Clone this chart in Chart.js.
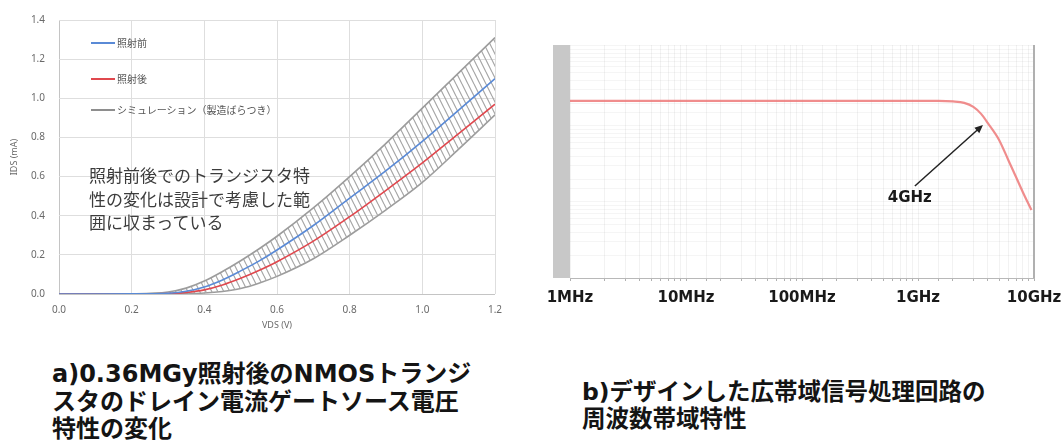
<!DOCTYPE html>
<html>
<head>
<meta charset="utf-8">
<script src="https://cdn.jsdelivr.net/npm/chart.js@4.4.1/dist/chart.umd.min.js"></script>
<style>
  html, body { margin: 0; padding: 0; background: #fff; width: 1061px; height: 442px; overflow: hidden;
    font-family: "Noto Sans CJK JP", "Noto Sans", sans-serif; }
  #ivBox { position: absolute; left: 0; top: 0; width: 520px; height: 335px; }
  #bwBox { position: absolute; left: 530px; top: 30px; width: 531px; height: 290px; }
  .lg { position: absolute; left: 91px; height: 14px; font-size: 10px; line-height: 14px; color: #555; white-space: nowrap; }
  .lg i { display: inline-block; width: 24px; height: 2px; vertical-align: middle; margin-right: 2px; position: relative; top: -1px; }
  .note { position: absolute; left: 89px; top: 163px; font-size: 17px; line-height: 23.5px; color: #3c3c3c; white-space: nowrap; }
  .cap { position: absolute; font-weight: bold; color: #141414; white-space: nowrap;
    font-family: "DejaVu Sans", "Noto Sans CJK JP", sans-serif; }
  #capA { left: 52px; top: 361px; font-size: 24px; line-height: 27.5px; }
  #capB { left: 582px; top: 379px; font-size: 23.5px; line-height: 26.5px; }
</style>
</head>
<body>
<div id="ivBox"><canvas id="ivChart" width="520" height="335"></canvas></div>
<div id="bwBox"><canvas id="bwChart" width="531" height="290"></canvas></div>

<div class="lg" style="top:36px"><i style="background:#5a8ad6"></i>照射前</div>
<div class="lg" style="top:72px"><i style="background:#e0484e"></i>照射後</div>
<div class="lg" style="top:103px"><i style="background:#8e8e8e"></i>シミュレーション（製造ばらつき）</div>

<div class="note">照射前後でのトランジスタ特<br>性の変化は設計で考慮した範<br>囲に収まっている</div>

<div class="cap" id="capA">a)0.36MGy照射後のNMOSトランジ<br>スタのドレイン電流ゲートソース電圧<br>特性の変化</div>
<div class="cap" id="capB">b)デザインした広帯域信号処理回路の<br>周波数帯域特性</div>

<script>
// ---- Panel a: IDS–VDS characteristics ----
const vds        = [0, 0.1, 0.2, 0.3, 0.35, 0.4, 0.45, 0.5, 0.55, 0.6, 0.7, 0.8, 0.9, 1.0, 1.1, 1.2];
const idsBefore  = [0, 0, 0.0005, 0.004, 0.014, 0.036, 0.072, 0.118, 0.168, 0.225, 0.35, 0.49, 0.63, 0.78, 0.94, 1.10];
const idsAfter   = [0, 0, 0.0003, 0.002, 0.008, 0.021, 0.046, 0.08, 0.12, 0.165, 0.27, 0.395, 0.53, 0.67, 0.82, 0.97];
const simUpper   = [0, 0, 0.001, 0.01, 0.03, 0.066, 0.115, 0.17, 0.23, 0.295, 0.44, 0.60, 0.77, 0.95, 1.13, 1.31];
const simLower   = [0, 0, 0, 0.0005, 0.002, 0.005, 0.013, 0.028, 0.055, 0.09, 0.18, 0.30, 0.43, 0.57, 0.74, 0.915];
const vdsTicks   = [0, 0.2, 0.4, 0.6, 0.8, 1.0, 1.2];

// ---- Panel b: frequency response ----
const freqHz     = [1e6, 1e7, 1e8, 5e8, 1e9, 1.5e9, 2e9, 2.5e9, 3e9, 3.5e9, 4e9, 5e9, 6e9, 7e9, 8e9, 9.5e9];
const gain       = [0.2133, 0.2133, 0.2133, 0.2133, 0.2133, 0.2133, 0.210, 0.201, 0.178, 0.144, 0.109, 0.0655, 0.0357, 0.0213, 0.01355, 0.00785];
const freqDecades = [1e6, 1e7, 1e8, 1e9, 1e10];
const freqLabels  = ['1MHz', '10MHz', '100MHz', '1GHz', '10GHz'];
const arrowTail  = { x: 9.4e8, y: 0.0162 };
const arrowTip   = { x: 3.63e9, y: 0.103 };
const markerText = '4GHz';
const markerAt   = { x: 8.5e8, y: 0.0113 };

const pts = (xs, ys) => xs.map((v, i) => ({ x: v, y: ys[i] }));

function hatchPattern(color) {
  const w = 6, h = 12;
  const c = document.createElement('canvas');
  c.width = w; c.height = h;
  const g = c.getContext('2d');
  g.strokeStyle = color;
  g.lineWidth = 1.2;
  g.beginPath();
  for (const x0 of [-w, 0, w]) { g.moveTo(x0, 0); g.lineTo(x0 + w, h); }
  g.stroke();
  return g.createPattern(c, 'repeat');
}

const tickFont = { family: '"Noto Sans", sans-serif', size: 10 };
const gridCol = ctx => (ctx.tick && ctx.tick.value === 0) ? '#c4c4c4' : '#dedede';

new Chart(document.getElementById('ivChart'), {
  type: 'line',
  data: {
    datasets: [
      { label: 'sim-upper', data: pts(vds, simUpper), borderColor: '#9c9c9c', borderWidth: 1.6,
        backgroundColor: hatchPattern('#a6a6a6'), fill: '+1', order: 2 },
      { label: 'sim-lower', data: pts(vds, simLower), borderColor: '#9c9c9c', borderWidth: 1.6,
        fill: false, order: 2 },
      { label: '照射前', data: pts(vds, idsBefore), borderColor: '#5a8ad6', borderWidth: 1.6, fill: false, order: 0 },
      { label: '照射後', data: pts(vds, idsAfter), borderColor: '#e0484e', borderWidth: 1.6, fill: false, order: 0 }
    ]
  },
  options: {
    responsive: false, animation: false, devicePixelRatio: 1,
    elements: { point: { radius: 0 }, line: { cubicInterpolationMode: 'monotone' } },
    layout: { padding: { left: 0, top: 17, right: 25, bottom: 0 } },
    plugins: { legend: { display: false }, tooltip: { enabled: false } },
    scales: {
      x: {
        type: 'linear', min: 0, max: 1.2,
        afterBuildTicks: s => { s.ticks = vdsTicks.map(v => ({ value: v })); },
        ticks: { callback: v => Number(v).toFixed(1), font: tickFont, color: '#6a6a6a', padding: 10, maxRotation: 0 },
        grid: { color: gridCol, drawTicks: false },
        border: { display: false },
        title: { display: true, text: 'VDS (V)', font: { family: '"Noto Sans", sans-serif', size: 9 }, color: '#6a6a6a',
                 padding: { top: 0, bottom: 4 } },
        afterFit: s => { s.height = 41; }
      },
      y: {
        min: 0, max: 1.4,
        ticks: { stepSize: 0.2, callback: v => Number(v).toFixed(1), font: tickFont, color: '#6a6a6a', padding: 14 },
        grid: { color: gridCol, drawTicks: false },
        border: { display: false },
        title: { display: true, text: 'IDS (mA)', font: { family: '"Noto Sans", sans-serif', size: 9 }, color: '#6a6a6a',
                 padding: { top: 9, bottom: 0 } },
        afterFit: s => { s.width = 59; }
      }
    }
  }
});

// arrow + label pointing at the cutoff on the response curve, plus the right frame edge
const arrowNote = {
  id: 'arrowNote',
  afterDatasetsDraw(chart) {
    const { ctx, chartArea, scales: { x, y } } = chart;
    ctx.save();
    ctx.strokeStyle = '#b0b0b0'; ctx.lineWidth = 2;
    ctx.beginPath();
    ctx.moveTo(chartArea.right, chartArea.top);
    ctx.lineTo(chartArea.right, chartArea.bottom);
    ctx.stroke();

    const x0 = x.getPixelForValue(arrowTail.x), y0 = y.getPixelForValue(arrowTail.y);
    const x1 = x.getPixelForValue(arrowTip.x),  y1 = y.getPixelForValue(arrowTip.y);
    const ang = Math.atan2(y1 - y0, x1 - x0);
    const head = 9, spread = 0.42;
    ctx.strokeStyle = '#222'; ctx.fillStyle = '#222'; ctx.lineWidth = 1.5;
    ctx.beginPath();
    ctx.moveTo(x0, y0);
    ctx.lineTo(x1 - Math.cos(ang) * head * 0.8, y1 - Math.sin(ang) * head * 0.8);
    ctx.stroke();
    ctx.beginPath();
    ctx.moveTo(x1, y1);
    ctx.lineTo(x1 - head * Math.cos(ang - spread), y1 - head * Math.sin(ang - spread));
    ctx.lineTo(x1 - head * Math.cos(ang + spread), y1 - head * Math.sin(ang + spread));
    ctx.closePath();
    ctx.fill();
    ctx.font = 'bold 15px "DejaVu Sans", sans-serif';
    ctx.textAlign = 'center'; ctx.textBaseline = 'middle';
    ctx.fillStyle = '#1a1a1a';
    ctx.fillText(markerText, x.getPixelForValue(markerAt.x), y.getPixelForValue(markerAt.y));
    ctx.restore();
  }
};

new Chart(document.getElementById('bwChart'), {
  type: 'line',
  data: {
    datasets: [
      { label: 'response', data: pts(freqHz, gain), borderColor: 'rgba(236,112,112,0.8)', borderWidth: 2.2,
        fill: false }
    ]
  },
  options: {
    responsive: false, animation: false, devicePixelRatio: 1,
    elements: { point: { radius: 0 }, line: { cubicInterpolationMode: 'monotone' } },
    layout: { padding: { left: 23, top: 15, right: 27, bottom: 0 } },
    plugins: { legend: { display: false }, tooltip: { enabled: false } },
    scales: {
      x: {
        type: 'logarithmic', min: 1e6, max: 1e10,
        ticks: {
          autoSkip: false, maxRotation: 0, padding: 8,
          callback: v => {
            const i = freqDecades.findIndex(d => Math.abs(Math.log10(d) - Math.log10(v)) < 1e-6);
            return i >= 0 ? freqLabels[i] : '';
          },
          font: { family: '"DejaVu Sans", sans-serif', weight: 'bold', size: 15 }, color: '#1a1a1a'
        },
        grid: { color: 'rgba(0,0,0,0.05)', tickLength: 3, tickColor: '#b0b0b0' },
        border: { color: '#b8b8b8', width: 1 },
        afterFit: s => { s.height = 42; s.paddingLeft = 0; s.paddingRight = 0; }
      },
      y: {
        type: 'logarithmic', min: 1e-3, max: 1.16, position: 'left',
        backgroundColor: '#c8c8c8',
        ticks: { display: false },
        grid: { color: 'rgba(0,0,0,0.04)', drawTicks: false },
        border: { display: false },
        afterFit: s => { s.width = 17; }
      }
    }
  },
  plugins: [arrowNote]
});
</script>
</body>
</html>
